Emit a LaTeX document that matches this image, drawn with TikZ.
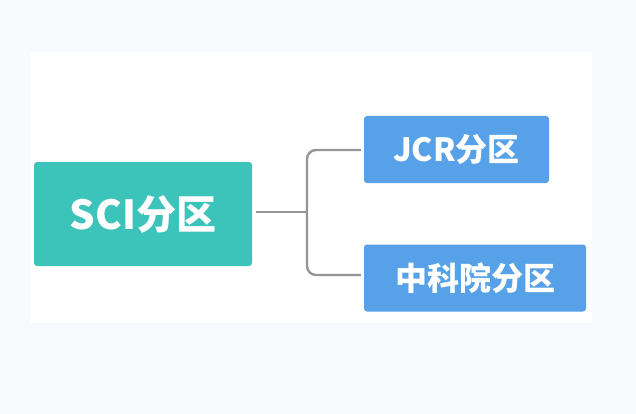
\documentclass[tikz,border=0pt]{standalone}
\usepackage{fontspec}
\setmainfont{Noto Sans CJK SC}
\usepackage{xcolor}
\usepackage{tikz}
\usetikzlibrary{backgrounds}

\definecolor{pagebg}{RGB}{248,250,253}
\definecolor{teal}{RGB}{60,196,187}
\definecolor{skyblue}{RGB}{86,161,232}
\definecolor{lineg}{RGB}{150,150,150}

\begin{document}
\begin{tikzpicture}[
  x=1pt, y=1pt,
  every node/.style = {font=\bfseries, text=white},
  root/.style  = {rectangle, rounded corners=3pt, fill=teal,
                  minimum width=218pt, minimum height=104pt,
                  font=\fontsize{40}{44}\selectfont\bfseries},
  leaf/.style  = {rectangle, rounded corners=3pt, fill=skyblue,
                  minimum height=67pt,
                  font=\fontsize{32}{36}\selectfont\bfseries},
  conn/.style  = {draw=lineg, line width=2.4pt, rounded corners=9pt}
]

%% ── PAGE + WHITE CARD ────────────────────────────────────────────
\fill[pagebg] (0,0) rectangle (636,-414);
\fill[white]  (30,-52) rectangle (592,-323);

%% ── NODES ────────────────────────────────────────────────────────
\node[root]                        at (143,  -214)   (sci) {SCI分区};
\node[leaf, minimum width=185pt]   at (456.5,-149.5) (jcr) {JCR分区};
\node[leaf, minimum width=222pt]   at (475,  -278)   (cas) {中科院分区};

\coordinate (fork) at (307,-212);

%% ── CONNECTORS ───────────────────────────────────────────────────
\draw[conn, shorten <=4pt] (sci.east |- fork) -- (fork);
\draw[conn, shorten >=3pt] (fork) |- ([yshift=-0.5pt]jcr.west);
\draw[conn, shorten >=3pt] (fork) |- ([yshift=3pt]cas.west);

\end{tikzpicture}
\end{document}
